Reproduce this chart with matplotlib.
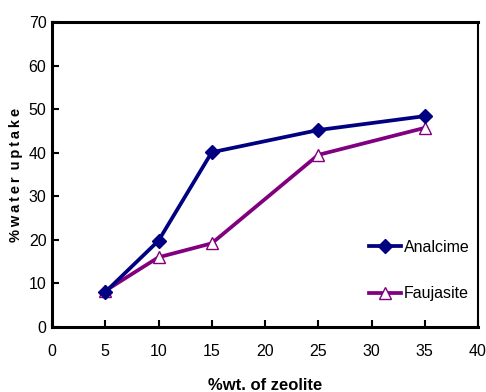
import matplotlib
matplotlib.use("Agg")
import matplotlib.pyplot as plt

plt.rcParams['font.family'] = ['Liberation Sans', 'DejaVu Sans']

x_vals = [5, 10, 15, 25, 35]
analcime = [8.0, 19.8, 40.1, 45.2, 48.4]
faujasite = [8.3, 16.0, 19.2, 39.5, 45.7]
x_ticks = [0, 5, 10, 15, 20, 25, 30, 35, 40]
y_ticks = [0, 10, 20, 30, 40, 50, 60, 70]

fig = plt.figure(figsize=(4.86, 3.92), dpi=100)
ax = fig.add_axes([52/486, 1-327/392, (478-52)/486, (327-22)/392])

ax.plot(x_vals, analcime, color='#000080', lw=2.7, marker='D', ms=7.5,
        mfc='#000080', mec='#000080', label='Analcime', zorder=3)
ax.plot(x_vals, faujasite, color='#800080', lw=2.7, marker='^', ms=9,
        mfc='white', mec='#800080', mew=1.0, label='Faujasite', zorder=2)

ax.set_xlim(0, 40)
ax.set_ylim(0, 70)
ax.set_xticks(x_ticks)
ax.set_yticks(y_ticks)
ax.tick_params(axis='both', direction='in', length=5, width=1.5, labelsize=11.5, colors='black')
ax.tick_params(axis='x', pad=12)
ax.tick_params(axis='y', pad=4)
for s in ['left', 'bottom', 'top']:
    ax.spines[s].set_linewidth(2.2)
ax.spines['right'].set_linewidth(1.5)

ax.set_xlabel('%wt. of zeolite', fontsize=12, fontweight='bold', labelpad=14)
ax.set_ylabel('%\u2009w\u2009a\u2009t\u2009e\u2009r\u2009 u\u2009p\u2009t\u2009a\u2009k\u2009e',
              fontsize=10.5, fontweight='bold', labelpad=4)

leg = ax.legend(loc='center left', bbox_to_anchor=(0.73, 0.185), frameon=False,
                fontsize=11.5, handlelength=2.0, handletextpad=0.15, labelspacing=1.95,
                borderaxespad=0)

fig.savefig('out.png', dpi=100)
